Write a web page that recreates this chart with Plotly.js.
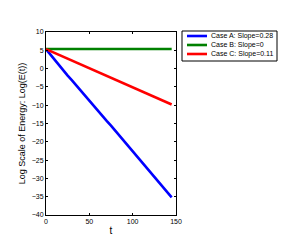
<!DOCTYPE html>
<html><head><meta charset="utf-8">
<script src="https://cdn.plot.ly/plotly-3.0.1.min.js"></script>
<style>html,body{margin:0;padding:0;background:#fff;}#chart{width:285px;height:241px;}</style>
</head><body><div id="chart"></div>
<script>
const tA = [0,5,10,15,20,25,30,35,40,45,50,55,60,65,70,75,80,85,90,95,100,105,110,115,120,125,130,135,140,145];
const caseA = [5.3,3.8,2.4,1.0,-0.5,-1.9,-3.2,-4.6,-6.1,-7.4,-8.7,-10.2,-11.6,-12.9,-14.3,-15.6,-17.0,-18.5,-19.8,-21.3,-22.7,-24.0,-25.5,-26.8,-28.3,-29.6,-31.1,-32.3,-34.0,-35.2];
const tB = [0,145];
const caseB = [5.35,5.35];
const tC = [0,145];
const caseC = [5.3,-9.8];
const names = ["Case A: Slope=0.28","Case B: Slope=0","Case C: Slope=0.11"];
const colors = ["#0000ff","#008000","#ff0000"];
const xTicks = [0,50,100,150];
const yTicks = [10,5,0,-5,-10,-15,-20,-25,-30,-35,-40];

const font = {family:"Liberation Sans, Arial, sans-serif", color:"#000"};
const traces = [
  {x:tA,y:caseA,name:names[0],mode:"lines",line:{color:colors[0],width:2.6}},
  {x:tB,y:caseB,name:names[1],mode:"lines",line:{color:colors[1],width:2.6}},
  {x:tC,y:caseC,name:names[2],mode:"lines",line:{color:colors[2],width:2.6}}
];
const ax = {showgrid:false,zeroline:false,showline:true,mirror:"ticks",linecolor:"#000",linewidth:1,
  ticks:"inside",ticklen:2,tickcolor:"#000",tickfont:Object.assign({size:7},font)};

// manual legend box (paper coords, plot area 46..176 x 32..215)
const W = 130, H = 183;
const px = v => (v - 46) / W;
const py = v => (215 - v) / H;
const shapes = [{type:"rect",xref:"paper",yref:"paper",x0:px(182),x1:px(277),y0:py(61),y1:py(31),
  line:{color:"#000",width:1},fillcolor:"#fff",layer:"above"}];
const annotations = [];
names.forEach((n,i)=>{
  const yy = 36 + 9*i;
  shapes.push({type:"line",xref:"paper",yref:"paper",x0:px(187),x1:px(207),y0:py(yy),y1:py(yy),
    line:{color:colors[i],width:2.6},layer:"above"});
  annotations.push({xref:"paper",yref:"paper",x:px(209),y:py(yy),text:n,showarrow:false,
    xanchor:"left",yanchor:"middle",font:Object.assign({size:7},font)});
});

const layout = {
  width:285,height:241,margin:{l:46,r:109,t:32,b:26,autoexpand:false},
  paper_bgcolor:"#fff",plot_bgcolor:"#fff",font:font,showlegend:false,
  xaxis:Object.assign({},ax,{range:[0,150],tickvals:xTicks,title:{text:"t",font:Object.assign({size:10},font),standoff:2}}),
  yaxis:Object.assign({},ax,{range:[-40,10],tickvals:yTicks,title:{text:"Log Scale of Energy: Log(E(t))",font:Object.assign({size:9},font),standoff:4}}),
  shapes:shapes, annotations:annotations
};
Plotly.newPlot("chart",traces,layout,{staticPlot:true,displayModeBar:false});
</script></body></html>
